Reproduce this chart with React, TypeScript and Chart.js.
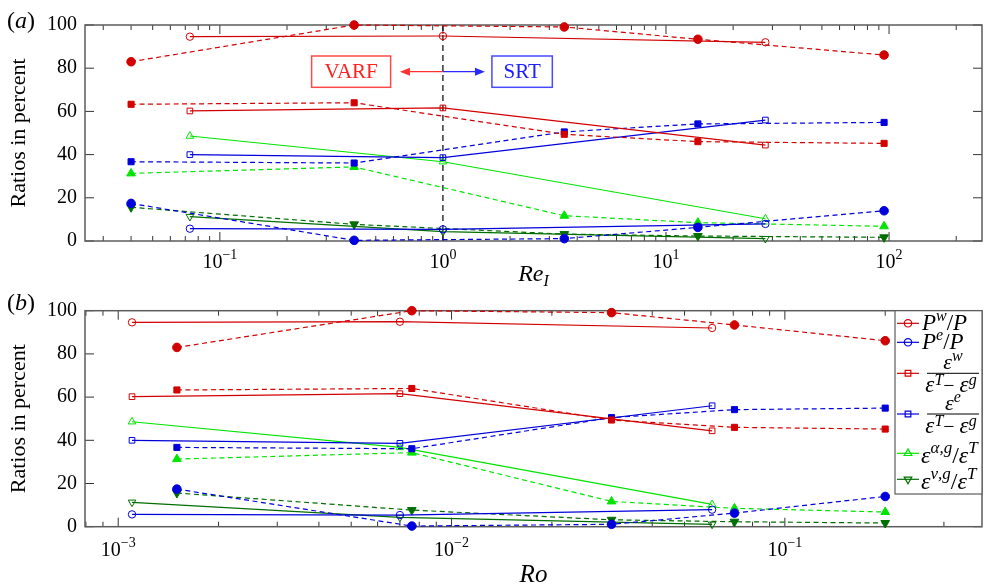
import { useEffect, useRef } from 'react';
import { Chart, registerables } from 'chart.js';
import { drawPoint } from 'chart.js/helpers';
Chart.register(...registerables);

// ---------- data ----------
const reSolidX = [0.0734, 1, 27.9];
const reDashedX = [0.04, 0.4, 3.5, 13.9, 95];
const roSolidX = [0.0011, 0.007, 0.0605];
const roDashedX = [0.0015, 0.0076, 0.0302, 0.0706, 0.2];

const pwSolid = [94.6, 94.9, 92.0];
const pwDashed = [83.0, 100, 99.1, 93.4, 86.1];
const peSolid = [5.7, 5.4, 7.9];
const peDashed = [17.4, 0.3, 1.1, 6.3, 14.0];
const ewSolid = [60.2, 61.6, 44.4];
const ewDashed = [63.3, 64.0, 49.4, 46.0, 45.2];
const eeSolid = [40.0, 38.6, 56.0];
const eeDashed = [36.7, 36.1, 50.5, 54.2, 54.9];
const eagSolid = [48.6, 36.7, 10.3];
const eagDashed = [31.3, 34.3, 11.7, 8.5, 6.8];
const engSolid = [11.3, 4.3, 1.1];
const engDashed = [15.6, 7.7, 3.2, 2.3, 1.7];

const yTicks = [0, 20, 40, 60, 80, 100];
const reTickExps = [-1, 0, 1, 2];
const roTickExps = [-3, -2, -1];

const RED = '#d20000';
const BLUE = '#0000dc';
const LGREEN = '#00e400';
const DGREEN = '#006e00';

const FONT = '"Liberation Serif"';

type Series = {
  color: string;
  style: string;
  rot: number;
  rOpen: number;
  rFill: number;
  solid: number[];
  dashed: number[];
};

const seriesList: Series[] = [
  { color: RED, style: 'circle', rot: 0, rOpen: 3.7, rFill: 4.3, solid: pwSolid, dashed: pwDashed },
  { color: BLUE, style: 'circle', rot: 0, rOpen: 3.7, rFill: 4.3, solid: peSolid, dashed: peDashed },
  { color: RED, style: 'rect', rot: 0, rOpen: 4.0, rFill: 4.3, solid: ewSolid, dashed: ewDashed },
  { color: BLUE, style: 'rect', rot: 0, rOpen: 4.0, rFill: 4.3, solid: eeSolid, dashed: eeDashed },
  { color: LGREEN, style: 'triangle', rot: 0, rOpen: 4.4, rFill: 5.0, solid: eagSolid, dashed: eagDashed },
  { color: DGREEN, style: 'triangle', rot: 180, rOpen: 4.4, rFill: 5.0, solid: engSolid, dashed: engDashed },
];

type Part = { t: string; size: number; it?: boolean; dy?: number };

function fontOf(p: Part) {
  return `${p.it ? 'italic ' : ''}${p.size}px ${FONT}`;
}

function drawRich(ctx: CanvasRenderingContext2D, parts: Part[], x: number, y: number, align: 'left' | 'center') {
  ctx.save();
  ctx.textAlign = 'left';
  ctx.textBaseline = 'alphabetic';
  let w = 0;
  for (const p of parts) {
    ctx.font = fontOf(p);
    w += ctx.measureText(p.t).width;
  }
  let cx = align === 'center' ? x - w / 2 : x;
  for (const p of parts) {
    ctx.font = fontOf(p);
    ctx.fillText(p.t, cx, y + (p.dy || 0));
    cx += ctx.measureText(p.t).width;
  }
  ctx.restore();
}

type PanelCfg = {
  name: string;
  xs: number[];
  xd: number[];
  xMin: number;
  xMax: number;
  exps: number[];
  tickBase: number;
  title: Part[];
  titleBase: number;
  label: string;
  labelBase: number;
  annot: boolean;
  legend: boolean;
  padTop: number;
  padBottom: number;
  height: number;
};

const panelA: PanelCfg = {
  name: 'a', xs: reSolidX, xd: reDashedX, xMin: 0.02486, xMax: 261, exps: reTickExps,
  tickBase: 26.7, title: [{ t: 'Re', size: 24, it: true }, { t: 'I', size: 16, it: true, dy: 5 }],
  titleBase: 281, label: 'a', labelBase: 28, annot: true, legend: false,
  padTop: 25, padBottom: 49, height: 290,
};
const panelB: PanelCfg = {
  name: 'b', xs: roSolidX, xd: roDashedX, xMin: 0.000795, xMax: 0.3903, exps: roTickExps,
  tickBase: 29.3, title: [{ t: 'Ro', size: 25, it: true }],
  titleBase: 292, label: 'b', labelBase: 20, annot: false, legend: true,
  padTop: 20.7, padBottom: 60.3, height: 297,
};

function line(ctx: CanvasRenderingContext2D, x1: number, y1: number, x2: number, y2: number) {
  ctx.beginPath();
  ctx.moveTo(x1, y1);
  ctx.lineTo(x2, y2);
  ctx.stroke();
}

function arrow(ctx: CanvasRenderingContext2D, x0: number, xt: number, y: number, color: string) {
  const dir = xt < x0 ? -1 : 1;
  ctx.strokeStyle = color;
  ctx.fillStyle = color;
  ctx.lineWidth = 1.2;
  ctx.setLineDash([]);
  line(ctx, x0, y, xt - dir * 8, y);
  ctx.beginPath();
  ctx.moveTo(xt, y);
  ctx.lineTo(xt - dir * 10, y - 4);
  ctx.lineTo(xt - dir * 10, y + 4);
  ctx.closePath();
  ctx.fill();
}

function makeDecor(cfg: PanelCfg) {
  return {
    id: 'decor' + cfg.name,
    beforeDatasetsDraw(chart: any) {
      const { ctx, chartArea: a, scales } = chart;
      const xs = scales.x;
      const ys = scales.y;
      ctx.save();
      ctx.strokeStyle = '#333';
      ctx.lineWidth = 1;
      const lo = Math.floor(Math.log10(cfg.xMin));
      const hi = Math.ceil(Math.log10(cfg.xMax));
      for (let n = lo; n <= hi; n++) {
        for (let k = 1; k <= 9; k++) {
          const v = k * Math.pow(10, n);
          if (v < cfg.xMin || v > cfg.xMax) continue;
          const px = xs.getPixelForValue(v);
          const len = k === 1 ? 9 : 5;
          line(ctx, px, a.bottom, px, a.bottom - len);
          line(ctx, px, a.top, px, a.top + len);
        }
      }
      for (const t of yTicks) {
        const py = ys.getPixelForValue(t);
        line(ctx, a.left, py, a.left + 9, py);
        line(ctx, a.right, py, a.right - 9, py);
      }
      if (cfg.annot) {
        const x1 = xs.getPixelForValue(1);
        ctx.strokeStyle = '#000';
        ctx.lineWidth = 1.2;
        ctx.setLineDash([6, 4]);
        line(ctx, x1, a.top, x1, a.bottom);
        ctx.setLineDash([]);
      }
      ctx.strokeStyle = '#5c5c5c';
      ctx.lineWidth = 1.5;
      ctx.strokeRect(a.left, a.top, a.right - a.left, a.bottom - a.top);
      ctx.restore();
    },
    afterDraw(chart: any) {
      const { ctx, chartArea: a, scales } = chart;
      const xs = scales.x;
      const ys = scales.y;
      ctx.save();
      ctx.fillStyle = '#000';
      // y tick labels
      ctx.font = `20px ${FONT}`;
      ctx.textAlign = 'right';
      ctx.textBaseline = 'middle';
      for (const t of yTicks) {
        ctx.fillText(String(t), a.left - 8, ys.getPixelForValue(t));
      }
      // x tick labels
      for (const e of cfg.exps) {
        const px = xs.getPixelForValue(Math.pow(10, e));
        const sup = e < 0 ? '\u2212' + Math.abs(e) : String(e);
        drawRich(ctx, [{ t: '10', size: 20 }, { t: sup, size: 14, dy: -9 }], px, a.bottom + cfg.tickBase, 'center');
      }
      // y title
      ctx.save();
      ctx.translate(19, (a.top + a.bottom) / 2);
      ctx.rotate(-Math.PI / 2);
      ctx.font = `22px ${FONT}`;
      ctx.textAlign = 'center';
      ctx.textBaseline = 'middle';
      ctx.fillText('Ratios in percent', 0, 0);
      ctx.restore();
      // x title
      drawRich(ctx, cfg.title, (a.left + a.right) / 2, cfg.titleBase, 'center');
      // panel label
      drawRich(ctx, [{ t: '(', size: 24 }, { t: cfg.label, size: 24, it: true }, { t: ')', size: 24 }], 7, cfg.labelBase, 'left');

      if (cfg.annot) {
        const x1 = xs.getPixelForValue(1);
        const ay = 71.7;
        arrow(ctx, x1, x1 - 43, ay, '#ff3030');
        arrow(ctx, x1, x1 + 42, ay, '#2a2aff');
        ctx.lineWidth = 1.5;
        ctx.strokeStyle = '#ff4a4a';
        ctx.strokeRect(x1 - 131.3, 56, 79, 31.3);
        ctx.strokeStyle = '#4a4aff';
        ctx.strokeRect(x1 + 49, 56, 60.4, 31.3);
        ctx.font = `21px ${FONT}`;
        ctx.textAlign = 'center';
        ctx.textBaseline = 'middle';
        ctx.fillStyle = '#ff2020';
        ctx.fillText('VARF', x1 - 91.8, ay + 1);
        ctx.fillStyle = '#2020ff';
        ctx.fillText('SRT', x1 + 79.2, ay + 1);
      }

      if (cfg.legend) {
        const bx = 895;
        const by = a.top;
        const bw = a.right - bx;
        const bh = 494 - 290 - by;
        ctx.fillStyle = '#fff';
        ctx.fillRect(bx, by, bw, bh);
        ctx.strokeStyle = '#5c5c5c';
        ctx.lineWidth = 1.2;
        ctx.strokeRect(bx, by, bw, bh);
        const rowY = [33.3, 52.3, 83.3, 124, 163.3, 189.3];
        seriesList.forEach((s, i) => {
          const y = rowY[i];
          ctx.strokeStyle = s.color;
          ctx.lineWidth = 1.2;
          ctx.setLineDash([]);
          line(ctx, 897, y, 919, y);
          ctx.fillStyle = 'rgba(0,0,0,0)';
          drawPoint(ctx, { pointStyle: s.style as any, radius: s.rOpen, rotation: s.rot, borderWidth: 1 } as any, 908, y);
        });
        ctx.fillStyle = '#000';
        const it = true;
        drawRich(ctx, [{ t: 'P', size: 23, it }, { t: 'w', size: 16, it, dy: -9 }, { t: '/', size: 23 }, { t: 'P', size: 23, it }], 922, rowY[0] + 7, 'left');
        drawRich(ctx, [{ t: 'P', size: 23, it }, { t: 'e', size: 16, it, dy: -9 }, { t: '/', size: 23 }, { t: 'P', size: 23, it }], 922, rowY[1] + 7, 'left');
        const den: Part[] = [
          { t: 'ε', size: 23, it }, { t: 'T', size: 16, it, dy: -7 }, { t: '\u2212 ', size: 20 },
          { t: 'ε', size: 23, it }, { t: 'g', size: 16, it, dy: -7 },
        ];
        [[2, 'w'], [3, 'e']].forEach(([idx, sup]) => {
          const y = rowY[idx as number];
          drawRich(ctx, [{ t: 'ε', size: 22, it }, { t: sup as string, size: 16, it, dy: -8 }], 953, y - 4, 'center');
          ctx.strokeStyle = '#000';
          ctx.lineWidth = 1;
          line(ctx, 927, y, 979, y);
          drawRich(ctx, den, 951, y + 18.5, 'center');
        });
        drawRich(ctx, [{ t: 'ε', size: 24, it }, { t: 'α,g', size: 17, it, dy: -10 }, { t: '/', size: 24 }, { t: 'ε', size: 24, it }, { t: 'T', size: 17, it, dy: -10 }], 921, rowY[4] + 10, 'left');
        drawRich(ctx, [{ t: 'ε', size: 24, it }, { t: 'ν,g', size: 17, it, dy: -10 }, { t: '/', size: 24 }, { t: 'ε', size: 24, it }, { t: 'T', size: 17, it, dy: -10 }], 921, rowY[5] + 10, 'left');
      }
      ctx.restore();
    },
  };
}

function buildDatasets(cfg: PanelCfg) {
  const ds: any[] = [];
  for (const s of seriesList) {
    ds.push({
      data: cfg.xs.map((x, i) => ({ x, y: s.solid[i] })),
      showLine: true,
      borderColor: s.color,
      borderWidth: 1.2,
      pointStyle: s.style,
      pointRotation: s.rot,
      pointRadius: s.rOpen,
      pointBorderWidth: 1,
      pointBorderColor: s.color,
      pointBackgroundColor: 'rgba(0,0,0,0)',
      clip: false,
      tension: 0,
    });
    ds.push({
      data: cfg.xd.map((x, i) => ({ x, y: s.dashed[i] })),
      showLine: true,
      borderColor: s.color,
      borderWidth: 1.2,
      borderDash: [5, 3.5],
      pointStyle: s.style,
      pointRotation: s.rot,
      pointRadius: s.rFill,
      pointBorderWidth: 1,
      pointBorderColor: s.color,
      pointBackgroundColor: s.color,
      clip: false,
      tension: 0,
    });
  }
  return ds;
}

function Panel({ cfg, top }: { cfg: PanelCfg; top: number }) {
  const ref = useRef<HTMLCanvasElement>(null);
  useEffect(() => {
    const chart = new Chart(ref.current as HTMLCanvasElement, {
      type: 'scatter',
      data: { datasets: buildDatasets(cfg) },
      options: {
        animation: false,
        responsive: false,
        maintainAspectRatio: false,
        layout: { padding: { left: 85, right: 5, top: cfg.padTop, bottom: cfg.padBottom } },
        scales: {
          x: { type: 'logarithmic', min: cfg.xMin, max: cfg.xMax, display: false },
          y: { type: 'linear', min: 0, max: 100, display: false },
        },
        plugins: { legend: { display: false }, tooltip: { enabled: false } },
        events: [],
      },
      plugins: [makeDecor(cfg)],
    });
    return () => chart.destroy();
  }, [cfg]);
  return (
    <canvas
      ref={ref}
      width={988}
      height={cfg.height}
      style={{ position: 'absolute', left: 0, top, width: 988, height: cfg.height }}
    />
  );
}

export default function App() {
  return (
    <div style={{ position: 'absolute', left: 0, top: 0, width: 988, height: 587, background: '#fff' }}>
      <Panel cfg={panelA} top={0} />
      <Panel cfg={panelB} top={290} />
    </div>
  );
}
